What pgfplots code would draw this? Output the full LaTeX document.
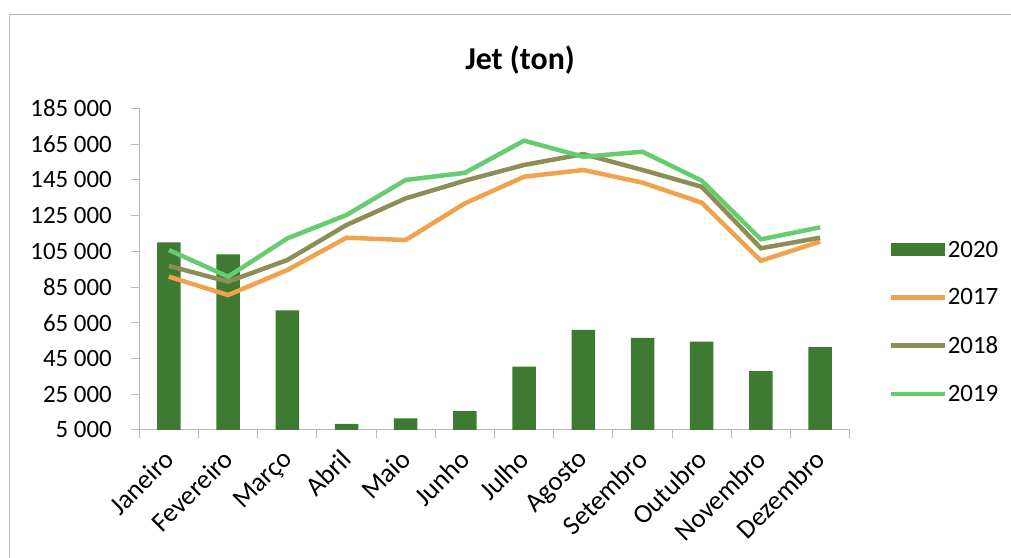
\documentclass[border=0pt]{standalone}
\usepackage{pgfplots}
\pgfplotsset{compat=1.18}
\usepackage{fontspec}
\setmainfont{Carlito}
\definecolor{barg}{RGB}{62,122,50}
\definecolor{or17}{RGB}{240,163,76}
\definecolor{ol18}{RGB}{140,142,86}
\definecolor{lg19}{RGB}{102,204,112}
\definecolor{axg}{RGB}{185,185,185}
\begin{document}
\begin{tikzpicture}
\useasboundingbox (0,0) rectangle (1011bp,558bp);
\draw[axg, line width=1bp] (9bp,0) -- (9bp,543bp) -- (1011bp,543bp);
\node[font=\bfseries\fontsize{32}{38}\selectfont] at (520bp,498bp) {Jet (ton)};
\begin{axis}[
  at={(139.3bp,128bp)}, anchor=south west,
  scale only axis, width=710.4bp, height=321.7bp,
  xmin=-0.5, xmax=11.5, ymin=5000, ymax=185000,
  axis x line*=bottom, axis y line*=left,
  axis line style={axg, line width=1bp, -},
  xtick={0,...,11},
  xticklabels={Janeiro,Fevereiro,Março,Abril,Maio,Junho,Julho,Agosto,Setembro,Outubro,Novembro,Dezembro},
  minor xtick={-0.5,0.5,...,11.5},
  major x tick style={draw=none},
  minor x tick style={axg, line width=1bp},
  scaled y ticks=false,
  ytick={5000,25000,...,185000},
  yticklabels={5 000,25 000,45 000,65 000,85 000,105 000,125 000,145 000,165 000,185 000},
  y tick style={axg, line width=1bp},
  tick align=outside, major tick length=8bp, minor tick length=8bp,
  xticklabel style={xshift=-6.5bp, yshift=-7bp, rotate=45, anchor=north east, font=\fontsize{27}{32}\selectfont, inner sep=2bp},
  yticklabel style={font=\fontsize{25}{30}\selectfont, xshift=-16bp},
  legend style={draw=none, fill=none, at={(1.054,0.336)}, anchor=west, inner sep=0pt,
    font=\fontsize{25}{30}\selectfont, row sep=28bp, nodes={inner sep=1bp}},
  legend cell align=left,
  legend image code/.code={\draw[#1] (0bp,0bp) -- (54bp,0bp);},
]
\addplot[ybar, bar width=23.5bp, fill=barg, draw=none,
  legend image code/.code={\fill[barg] (0bp,-6.5bp) rectangle (54bp,6.5bp);}]
  coordinates {(0,110000) (1,103300) (2,72000) (3,8400) (4,11500) (5,15600) (6,40400) (7,61000) (8,56600) (9,54400) (10,38000) (11,51300)};
\addlegendentry{2020}
\addplot[sharp plot, or17, line width=4.5bp, mark=none]
  coordinates {(0,90800) (1,80500) (2,94500) (3,112600) (4,111300) (5,131800) (6,146700) (7,150500) (8,143400) (9,132200) (10,99700) (11,110400)};
\addlegendentry{2017}
\addplot[sharp plot, ol18, line width=4.5bp, mark=none]
  coordinates {(0,96800) (1,88000) (2,100100) (3,119700) (4,134600) (5,144500) (6,153300) (7,159400) (8,150500) (9,141100) (10,106700) (11,112600)};
\addlegendentry{2018}
\addplot[sharp plot, lg19, line width=4.5bp, mark=none]
  coordinates {(0,105700) (1,90800) (2,112200) (3,125300) (4,144900) (5,148900) (6,166900) (7,157900) (8,160700) (9,144500) (10,111700) (11,118400)};
\addlegendentry{2019}
\end{axis}
\end{tikzpicture}
\end{document}
